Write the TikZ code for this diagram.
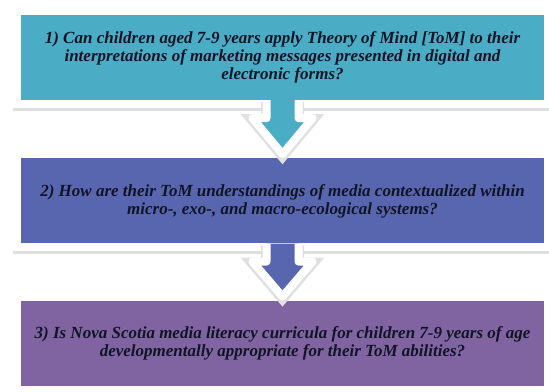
\documentclass[tikz,border=0pt]{standalone}
\usepackage{fontspec}
\setmainfont{Liberation Serif}
\usetikzlibrary{positioning,calc,shadows}

\definecolor{qteal}{RGB}{75,172,198}
\definecolor{qblue}{RGB}{88,102,176}
\definecolor{qviolet}{RGB}{128,100,162}
\definecolor{qtext}{RGB}{16,20,36}

\tikzset{
  qbox/.style={fill=white, minimum width=539pt, minimum height=101pt, inner sep=0pt,
    align=center, text=qtext, font=\bfseries\itshape\fontsize{17}{18}\selectfont,
    drop shadow={shadow xshift=0pt, shadow yshift=-3pt, opacity=0.25},
    path picture={\fill[#1] ([shift={(8pt,8pt)}]path picture bounding box.south west)
      rectangle ([shift={(-8pt,-8pt)}]path picture bounding box.north east);}},
  qarrow/.style={fill=#1, draw=white, line width=8pt, line join=round,
    preaction={draw=black!12, line width=11pt, transform canvas={yshift=-1.5pt}}}
}

% block arrow from box #1 down to box #2
\newcommand{\qflow}[3]{%
  \path[qarrow=#3] ($(#1.south)+(-16pt,8pt)$) -- ++(0,-18pt) -- ++(-14pt,0)
    -- ($(#2.north)+(0,-4pt)$) -- ($(#1.south)+(30pt,-10pt)$) -- ++(-14pt,0)
    -- ($(#1.south)+(16pt,8pt)$);}

\begin{document}
\begin{tikzpicture}
\useasboundingbox (0,0) rectangle (549pt,391pt);

\node [qbox=qteal] (q1) at (282.5pt,333.5pt) {1) Can children aged 7-9 years apply Theory of Mind [ToM] to their\\
  interpretations of marketing messages presented in digital and\\ electronic forms?};
\node [qbox=qblue, below=42pt of q1] (q2) {2) How are their ToM understandings of media contextualized within\\
  micro-, exo-, and macro-ecological systems?};
\node [qbox=qviolet, below=41pt of q2] (q3) {3) Is Nova Scotia media literacy curricula for children 7-9 years of age\\
  developmentally appropriate for their ToM abilities?};

\qflow{q1}{q2}{qteal}
\qflow{q2}{q3}{qblue}

\end{tikzpicture}
\end{document}
